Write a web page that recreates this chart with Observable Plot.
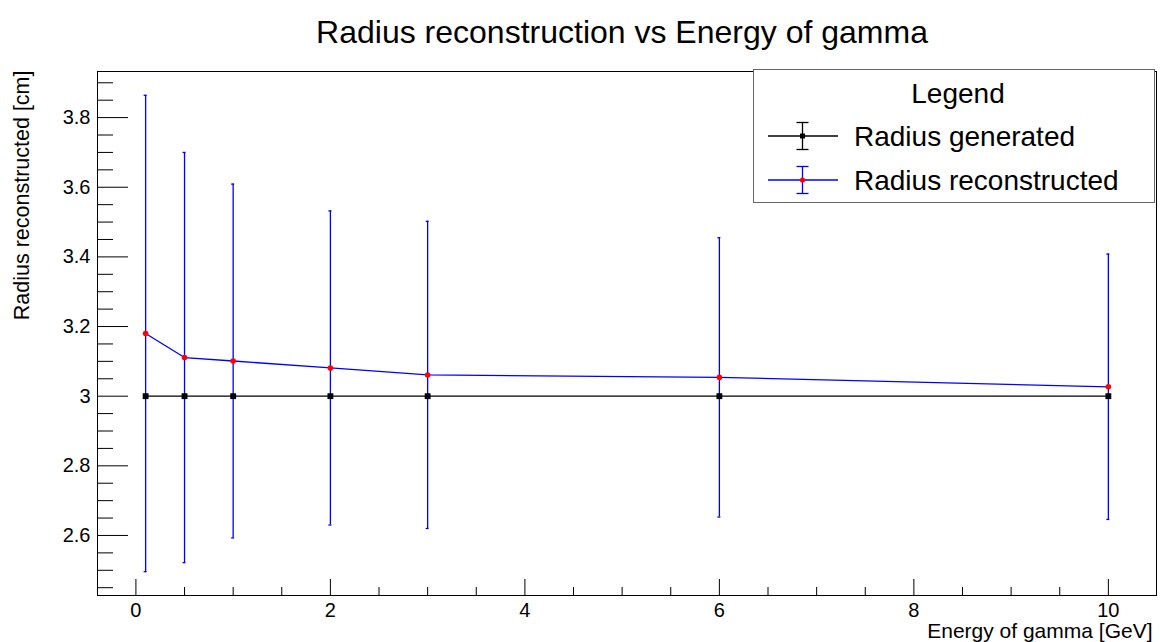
<!DOCTYPE html>
<html>
<head>
<meta charset="utf-8">
<script src="https://cdn.jsdelivr.net/npm/d3@7"></script>
<script src="https://cdn.jsdelivr.net/npm/@observablehq/plot@0.6"></script>
<style>
  html, body { margin: 0; padding: 0; background: #fff; }
  #chart { width: 1160px; height: 642px; }
</style>
</head>
<body>
<div id="chart"></div>
<script>
// ---- data ----
const energy = [0.1, 0.5, 1, 2, 3, 6, 10];
const radiusGenerated = [3, 3, 3, 3, 3, 3, 3];
const radiusGeneratedErr = [0, 0, 0, 0, 0, 0, 0];
const radiusReconstructed = [3.180, 3.111, 3.101, 3.081, 3.061, 3.054, 3.027];
const radiusReconstructedErr = [0.684, 0.589, 0.508, 0.451, 0.441, 0.401, 0.381];

// ---- tick values & labels ----
const xMajorTicks = [0, 2, 4, 6, 8, 10];
const xTickLabels = ["0", "2", "4", "6", "8", "10"];
const xMinorTicks = [0.5, 1, 1.5, 2.5, 3, 3.5, 4.5, 5, 5.5, 6.5, 7, 7.5, 8.5, 9, 9.5];
const yMajorTicks = [2.6, 2.8, 3.0, 3.2, 3.4, 3.6, 3.8];
const yTickLabels = ["2.6", "2.8", "3", "3.2", "3.4", "3.6", "3.8"];
const yMinorTicks = [2.45, 2.5, 2.55, 2.65, 2.7, 2.75, 2.85, 2.9, 2.95, 3.05, 3.1, 3.15,
                     3.25, 3.3, 3.35, 3.45, 3.5, 3.55, 3.65, 3.7, 3.75, 3.85, 3.9];

const titleText = "Radius reconstruction vs Energy of gamma";
const xTitle = "Energy of gamma [GeV]";
const yTitle = "Radius reconstructed [cm]";
const legendTitle = "Legend";
const seriesNames = ["Radius generated", "Radius reconstructed"];

// ---- tables built from arrays ----
const gen = energy.map((x, i) => ({x, y: radiusGenerated[i], e: radiusGeneratedErr[i]}));
const reco = energy.map((x, i) => ({x, y: radiusReconstructed[i], e: radiusReconstructedErr[i]}));

const W = 1160, H = 642;
const mL = 97, mR = 4, mT = 71, mB = 47;
const fw = W - mL - mR, fh = H - mT - mB;
const FONT = "Liberation Sans, Arial, Helvetica, sans-serif";

const plot = Plot.plot({
  width: W,
  height: H,
  marginLeft: mL,
  marginRight: mR,
  marginTop: mT,
  marginBottom: mB,
  style: {fontFamily: FONT, fontSize: "20px", background: "#fff", color: "#000"},
  x: {domain: [-0.395, 10.495]},
  y: {domain: [2.4276, 3.9324]},
  marks: [
    // tick labels
    Plot.axisX({ticks: xMajorTicks, tickSize: 0, tickPadding: 7, fontSize: 20,
      tickFormat: d => xTickLabels[xMajorTicks.indexOf(d)], label: null}),
    Plot.axisY({ticks: yMajorTicks, tickSize: 0, tickPadding: 7, fontSize: 20,
      tickFormat: d => yTickLabels[yMajorTicks.findIndex(t => Math.abs(t - d) < 1e-9)], label: null}),
    // inward ticks
    Plot.ruleY(yMajorTicks, {y: d => d, stroke: "#000", strokeWidth: 1, insetRight: fw - 31}),
    Plot.ruleY(yMinorTicks, {y: d => d, stroke: "#000", strokeWidth: 1, insetRight: fw - 16}),
    Plot.ruleX(xMajorTicks, {x: d => d, stroke: "#000", strokeWidth: 1, insetTop: fh - 16}),
    Plot.ruleX(xMinorTicks, {x: d => d, stroke: "#000", strokeWidth: 1, insetTop: fh - 8}),
    // reconstructed error bars
    Plot.ruleX(reco, {x: "x", y1: d => d.y - d.e, y2: d => d.y + d.e, stroke: "#0000ff", strokeWidth: 1.3}),
    Plot.ruleY(reco, {y: d => d.y + d.e, x1: "x", x2: "x", insetLeft: -1.5, insetRight: -1.5, stroke: "#0000ff", strokeWidth: 1.3}),
    Plot.ruleY(reco, {y: d => d.y - d.e, x1: "x", x2: "x", insetLeft: -1.5, insetRight: -1.5, stroke: "#0000ff", strokeWidth: 1.3}),
    // generated
    Plot.line(gen, {x: "x", y: "y", stroke: "#000", strokeWidth: 1.3}),
    Plot.ruleX(gen, {x: "x", y1: d => d.y - d.e, y2: d => d.y + d.e, stroke: "#000", strokeWidth: 1.3}),
    Plot.dot(gen, {x: "x", y: "y", symbol: "square", r: 3.3, fill: "#000", stroke: "none"}),
    // reconstructed
    Plot.line(reco, {x: "x", y: "y", stroke: "#0000ff", strokeWidth: 1.3}),
    Plot.dot(reco, {x: "x", y: "y", r: 2.8, fill: "#ff0000", stroke: "none"}),
    Plot.frame({stroke: "#000", strokeWidth: 1}),
    // titles
    Plot.text([titleText], {frameAnchor: "top", textAnchor: "middle", lineAnchor: "bottom",
      dx: -5, dy: -29, fontSize: 32, fill: "#000"}),
    Plot.text([xTitle], {frameAnchor: "bottom-right", textAnchor: "end", lineAnchor: "bottom",
      dx: -4, dy: 42, fontSize: 21, fill: "#000"}),
    Plot.text([yTitle], {frameAnchor: "top-left", textAnchor: "end", lineAnchor: "bottom",
      rotate: -90, dx: -69, dy: -1, fontSize: 21.5, fill: "#000"})
  ]
});

document.getElementById("chart").appendChild(plot);

// ---- legend box (drawn on the same svg) ----
const svg = d3.select(plot);
const lg = svg.append("g").attr("font-family", FONT).attr("text-anchor", "start");
lg.append("rect").attr("x", 753.5).attr("y", 69.5).attr("width", 401).attr("height", 133)
  .attr("fill", "#fff").attr("stroke", "#666").attr("stroke-width", 1);
lg.append("text").attr("x", 958).attr("y", 103).attr("text-anchor", "middle")
  .attr("font-size", 28).attr("fill", "#000").text(legendTitle);

const entries = [
  {y: 136, stroke: "#000", marker: "square", mfill: "#000", name: seriesNames[0]},
  {y: 180, stroke: "#0000ff", marker: "circle", mfill: "#ff0000", name: seriesNames[1]}
];
entries.forEach(e => {
  lg.append("line").attr("x1", 768).attr("x2", 838).attr("y1", e.y).attr("y2", e.y)
    .attr("stroke", e.stroke).attr("stroke-width", 1.3);
  lg.append("line").attr("x1", 802.5).attr("x2", 802.5).attr("y1", e.y - 13.5).attr("y2", e.y + 13.5)
    .attr("stroke", e.stroke).attr("stroke-width", 1.3);
  [e.y - 13.5, e.y + 13.5].forEach(yy => {
    lg.append("line").attr("x1", 796.5).attr("x2", 808.5).attr("y1", yy).attr("y2", yy)
      .attr("stroke", e.stroke).attr("stroke-width", 1.3);
  });
  if (e.marker === "square") {
    lg.append("rect").attr("x", 800).attr("y", e.y - 2.5).attr("width", 5).attr("height", 5).attr("fill", e.mfill);
  } else {
    lg.append("circle").attr("cx", 802.5).attr("cy", e.y).attr("r", 2.6).attr("fill", e.mfill);
  }
  lg.append("text").attr("x", 854).attr("y", e.y + 10).attr("text-anchor", "start")
    .attr("font-size", 28).attr("fill", "#000").text(e.name);
});
</script>
</body>
</html>
